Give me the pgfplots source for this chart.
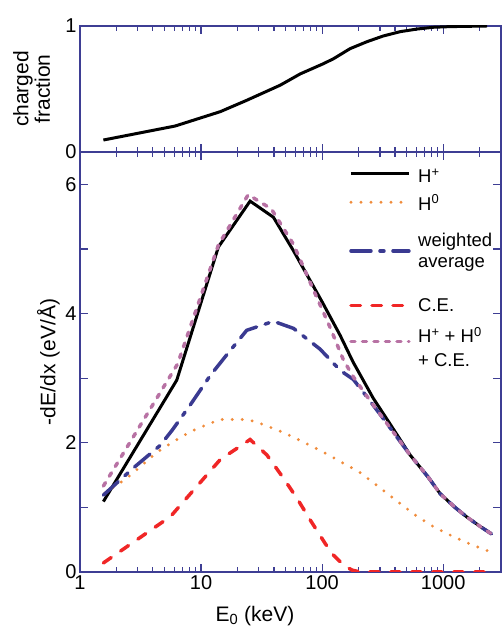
\documentclass[border=0pt]{standalone}
\usepackage{fontspec}
\setmainfont{Liberation Sans}
\usepackage{pgfplots}
\pgfplotsset{compat=1.18}

\definecolor{axnavy}{RGB}{62,62,148}
\definecolor{cblue}{RGB}{58,58,145}
\definecolor{corange}{RGB}{240,140,60}
\definecolor{cred}{RGB}{240,38,38}
\definecolor{cpurple}{RGB}{184,114,164}

\tikzset{legtext/.style={anchor=base west, inner sep=0pt, font=\fontsize{18.5}{22}\selectfont}}

\begin{document}
\begin{tikzpicture}
% ---------- top panel: charged fraction ----------
\begin{axis}[xmode=log, xmin=1, xmax=3000, scale only axis, width=421pt, height=126pt,
  at={(80pt,476pt)}, anchor=south west,
  axis line style={axnavy, line width=1.3pt},
  tick style={axnavy, line width=1.2pt},
  tick align=inside,
  major tick length=8pt, minor tick length=5pt,
  xtick={1,10,100,1000},
  minor xtick={2,3,4,5,6,7,8,9,20,30,40,50,60,70,80,90,200,300,400,500,600,700,800,900,2000},
  tick label style={font=\fontsize{20}{24}\selectfont},
  label style={font=\fontsize{21}{21.5}\selectfont},
  ymin=0, ymax=1, ytick={0,1}, yticklabels={0,1}, xticklabels={},
  ylabel={charged\\fraction},
  ylabel style={align=center, at={(axis description cs:-0.1147,0.5)}, anchor=center, inner sep=0pt},
]
\addplot[black, line width=3pt] coordinates {
(1.56,0.095) (6.1,0.206) (14.4,0.32) (23.8,0.41) (45,0.53) (66,0.62) (102,0.70)
(124,0.74) (170,0.82) (234,0.875) (318,0.92) (441,0.955) (610,0.976) (832,0.99)
(1140,0.995) (2300,1.0)};
\end{axis}

% ---------- bottom panel: stopping ----------
\begin{axis}[xmode=log, xmin=1, xmax=3000, scale only axis, width=421pt, height=420pt,
  at={(80pt,56pt)}, anchor=south west,
  axis line style={axnavy, line width=1.3pt},
  tick style={axnavy, line width=1.2pt},
  tick align=inside,
  major tick length=8pt, minor tick length=5pt,
  xtick={1,10,100,1000},
  minor xtick={2,3,4,5,6,7,8,9,20,30,40,50,60,70,80,90,200,300,400,500,600,700,800,900,2000},
  tick label style={font=\fontsize{20}{24}\selectfont},
  label style={font=\fontsize{21}{21.5}\selectfont},
  ymin=0, ymax=6.5, ytick={0,1,2,3,4,5,6}, yticklabels={0,,2,,4,,6},
  xticklabels={1,10,100,1000},
  xlabel={E\textsubscript{0} (keV)},
  ylabel={-dE/dx (eV/Å)},
  xlabel style={at={(axis description cs:0.4157,-0.1183)}, anchor=base, inner sep=0pt},
  ylabel style={at={(axis description cs:-0.0582,0.5)}, anchor=base, inner sep=0pt},
]
% H+
\addplot[black, line width=3pt] coordinates {
(1.56,1.09) (6.3,2.97) (13.9,5.03) (25.4,5.74) (39.6,5.49) (58,4.97) (100,4.18)
(141,3.66) (180,3.25) (264,2.69) (350,2.34) (533,1.81) (750,1.47) (945,1.21)
(1250,1.00) (1570,0.85) (2000,0.71) (2500,0.59)};
% H0
\addplot[corange, line width=3.2pt, line cap=round, dash pattern=on 0pt off 10pt] coordinates {
(1.6,1.22) (2.43,1.45) (2.85,1.56) (4.3,1.85) (5.7,2.0) (8.1,2.17) (11.5,2.29)
(14.4,2.36) (23.8,2.36) (28.8,2.32) (48,2.16) (70,2.01) (99,1.87) (141,1.71)
(202,1.55) (292,1.32) (414,1.10) (587,0.88) (832,0.70) (1217,0.545) (1726,0.42) (2477,0.31)};
% weighted average
\addplot[cblue, line width=3.5pt, line cap=round, dash pattern=on 20pt off 9pt on 4pt off 9pt] coordinates {
(1.56,1.19) (2.76,1.61) (4.6,1.96) (5.8,2.20) (8.1,2.58) (11.9,3.04) (15.8,3.33)
(23.8,3.74) (39.6,3.88) (58,3.77) (96,3.45) (141,3.12) (181,2.98) (230,2.73)
(321,2.37) (533,1.81) (750,1.47) (945,1.21) (1250,1.00) (1570,0.85) (2000,0.71) (2500,0.59)};
% C.E.
\addplot[cred, line width=3.5pt, line cap=round, dash pattern=on 9.5pt off 11.5pt] coordinates {
(1.56,0.14) (5.6,0.86) (14.4,1.74) (25.4,2.05) (35,1.81) (48,1.45) (62,1.14)
(80,0.80) (106,0.44) (124,0.26) (150,0.11) (176,0.03) (206,0.0) (2500,0.0)};
% sum
\addplot[cpurple, line width=3.5pt, line cap=round, dash pattern=on 4pt off 7.5pt] coordinates {
(1.56,1.33) (6.4,3.22) (13.9,5.06) (24.5,5.84) (38,5.62) (58,5.07) (85,4.36)
(116,3.79) (150,3.28) (181,3.02) (230,2.74) (321,2.37) (365,2.23) (533,1.81)
(750,1.47) (945,1.21) (1250,1.00) (1570,0.85) (2000,0.71) (2500,0.59)};

% ---------- legend keys ----------
\addplot[black, line width=3pt, forget plot] coordinates {(173,6.170) (521,6.170)};
\addplot[corange, line width=3.2pt, line cap=round, dash pattern=on 0pt off 10pt, forget plot] coordinates {(173,5.722) (521,5.722)};
\addplot[cblue, line width=3.5pt, line cap=round, dash pattern=on 20pt off 9pt on 4pt off 9pt, forget plot] coordinates {(173,4.968) (521,4.968)};
\addplot[cred, line width=3.5pt, line cap=round, dash pattern=on 9.5pt off 11.5pt, forget plot] coordinates {(173,4.121) (521,4.121)};
\addplot[cpurple, line width=3.5pt, line cap=round, dash pattern=on 4pt off 7.5pt, forget plot] coordinates {(173,3.564) (521,3.564)};
\node[legtext] at (axis cs:618.7,6.025) {H\textsuperscript{+}};
\node[legtext] at (axis cs:618.7,5.602) {H\textsuperscript{0}};
\node[legtext] at (axis cs:618.7,5.045) {weighted};
\node[legtext] at (axis cs:618.7,4.705) {average};
\node[legtext] at (axis cs:618.7,4.028) {C.E.};
\node[legtext] at (axis cs:618.7,3.549) {H\textsuperscript{+} + H\textsuperscript{0}};
\node[legtext] at (axis cs:618.7,3.188) {+ C.E.};
\end{axis}
\pgfresetboundingbox
\path (0pt,0pt) rectangle (502pt,628pt);
\end{tikzpicture}
\end{document}
